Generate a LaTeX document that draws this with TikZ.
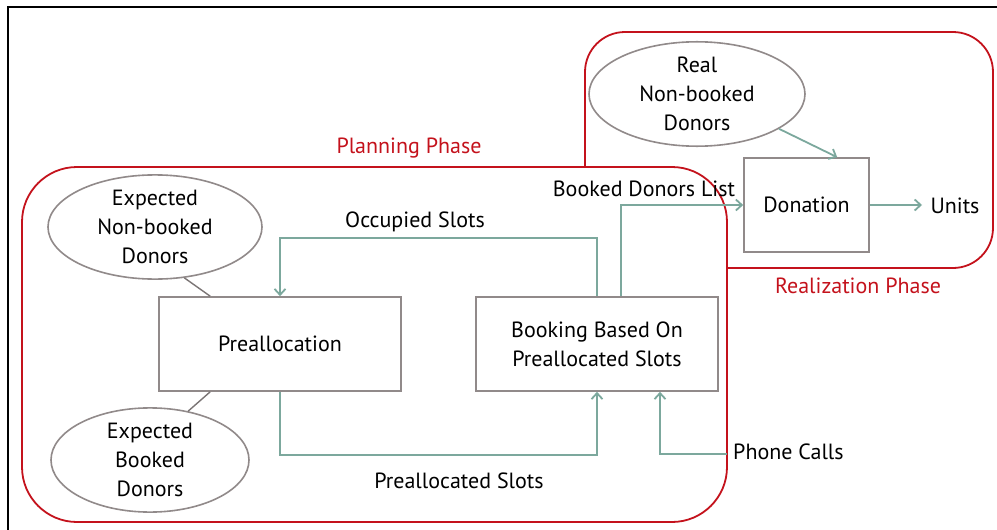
\documentclass[tikz,border=0pt]{standalone}
\usepackage{fontspec}
\setmainfont{PT Sans}
\usetikzlibrary{arrows.meta,shapes.geometric,calc}
\definecolor{phasered}{RGB}{196,18,28}
\definecolor{flow}{RGB}{124,168,157}
\definecolor{boxgray}{RGB}{145,138,138}
\tikzset{
  txt/.style={font=\fontsize{22}{29}\selectfont, align=center, inner sep=0pt},
  phase/.style={draw=phasered, line width=1.8pt, fill=white},
  phasetxt/.style={txt, text=phasered},
  procbox/.style={draw=boxgray, line width=1.6pt, fill=white, txt},
  donor/.style={ellipse, draw=boxgray, line width=1.6pt, fill=white, txt},
  arr/.style={draw=flow, line width=1.8pt, -{Straight Barb[length=6pt,width=11pt,line width=1.8pt]}},
  link/.style={draw=boxgray!85!black, line width=1.4pt}
}
\begin{document}
\begin{tikzpicture}[x=1pt,y=-1pt]
\useasboundingbox (0,0) rectangle (997,530);
% frame
\draw[black, line width=1.5pt] (8,530) -- (8,7) -- (997,7);
% phase regions
\draw[phase, rounded corners=40pt] (585,32) rectangle (993,268);
\draw[phase, rounded corners=55pt] (22,167) rectangle (727,522);
\node[phasetxt] (plan) at (409,148) {Planning Phase};
\node[phasetxt] (real) at (858,286) {Realization Phase};
% nodes
\node[procbox, minimum width=242pt, minimum height=94pt] (pre) at (280,344) {Preallocation};
\node[procbox, minimum width=242pt, minimum height=94pt] (book) at (597,344) {Booking Based On\\Preallocated Slots};
\node[procbox, minimum width=125pt, minimum height=94pt] (don) at (806.5,205) {Donation};
\node[donor, minimum width=214pt, minimum height=96pt] (enb) at (155,227) {Expected\\Non-booked\\Donors};
\node[donor, minimum width=198pt, minimum height=90pt] (eb) at (150,460) {Expected\\Booked\\Donors};
\node[donor, minimum width=216pt, minimum height=88pt] (rnb) at (697,94) {Real\\Non-booked\\Donors};
\node[txt] (units) at (955,206) {Units};
\node[txt, anchor=west] (phone) at (733,452) {Phone Calls};
\node[txt] (occ) at (415,222) {Occupied Slots};
\node[txt] (prs) at (459,481) {Preallocated Slots};
\node[txt] (bdl) at (644,189) {Booked Donors List};
% connectors
\draw[link] (enb.-60) -- ($(pre.north west)+(52,0)$);
\draw[link] (eb.52) -- ($(pre.south west)+(52,0)$);
\draw[arr] (rnb.-23) -- ($(don.north west)+(94,0)$);
\draw[arr] (book.north) -- ++(0,-58) -| (pre.north);
\draw[arr] (pre.south) -- ++(0,63) -| (book.south);
\draw[arr] ($(book.north)+(24,0)$) |- (don.west);
\draw[arr] ($(phone.west)+(-6,2)$) -| ($(book.south)+(63,0)$);
\draw[arr] (don.east) -- (922,205);
\end{tikzpicture}
\end{document}
